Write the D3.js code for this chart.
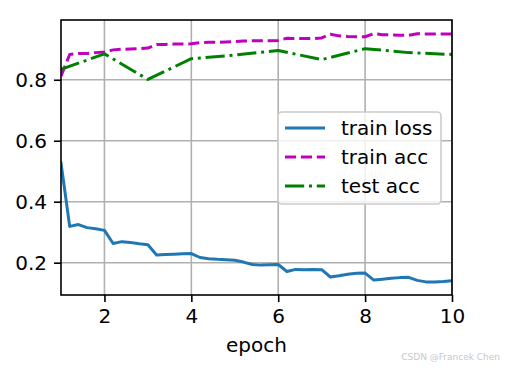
<!DOCTYPE html>
<html>
<head>
<meta charset="utf-8">
<script src="https://cdn.jsdelivr.net/npm/d3@7"></script>
<style>
  html, body { margin: 0; padding: 0; background: #fff; }
  svg { display: block; }
  text { font-family: "DejaVu Sans", sans-serif; }
</style>
</head>
<body>
<svg id="chart" width="505" height="370"></svg>
<script>
// ---- data ----
const fineEpochs = [1.0,1.2,1.4,1.6,1.8,2.0,2.2,2.4,2.6,2.8,3.0,3.2,3.4,3.6,3.8,4.0,4.2,4.4,4.6,4.8,5.0,5.2,5.4,5.6,5.8,6.0,6.2,6.4,6.6,6.8,7.0,7.2,7.4,7.6,7.8,8.0,8.2,8.4,8.6,8.8,9.0,9.2,9.4,9.6,9.8,10.0];
const trainLoss = [0.527,0.319,0.325,0.315,0.311,0.306,0.263,0.269,0.266,0.262,0.259,0.225,0.227,0.228,0.229,0.230,0.217,0.213,0.211,0.210,0.208,0.202,0.194,0.192,0.193,0.194,0.171,0.178,0.177,0.178,0.177,0.153,0.157,0.162,0.165,0.166,0.143,0.146,0.149,0.151,0.152,0.142,0.137,0.137,0.138,0.141];
const trainAcc = [0.812,0.883,0.886,0.886,0.889,0.891,0.898,0.900,0.901,0.902,0.904,0.916,0.916,0.917,0.917,0.918,0.922,0.923,0.923,0.924,0.925,0.927,0.928,0.928,0.928,0.929,0.936,0.935,0.935,0.935,0.937,0.949,0.944,0.942,0.941,0.941,0.951,0.948,0.947,0.946,0.946,0.951,0.950,0.950,0.950,0.950];
const testEpochs = [1,2,3,4,5,6,7,8,9,10];
const testAcc = [0.834,0.885,0.801,0.869,0.881,0.896,0.866,0.902,0.889,0.883];
const xTicks = [2,4,6,8,10];
const yTicks = [0.2,0.4,0.6,0.8];
const seriesNames = ["train loss","train acc","test acc"];

// ---- layout ----
const L = 61, R = 452, T = 20, B = 295;
const svg = d3.select("#chart");
const x = d3.scaleLinear().domain([1,10]).range([L,R]);
const y = d3.scaleLinear().domain([0.094,0.996]).range([B,T]);

svg.append("defs").append("clipPath").attr("id","clip")
  .append("rect").attr("x",L).attr("y",T).attr("width",R-L).attr("height",B-T);

// grid
const grid = svg.append("g");
xTicks.forEach(t => grid.append("line").attr("x1",x(t)).attr("x2",x(t)).attr("y1",T).attr("y2",B)
  .attr("stroke","#b0b0b0").attr("stroke-width",1.6));
yTicks.forEach(t => grid.append("line").attr("x1",L).attr("x2",R).attr("y1",y(t)).attr("y2",y(t))
  .attr("stroke","#b0b0b0").attr("stroke-width",1.6));

// lines
const lineG = svg.append("g").attr("clip-path","url(#clip)");
const mk = d3.line().x(d=>x(d[0])).y(d=>y(d[1]));
lineG.append("path").datum(fineEpochs.map((e,i)=>[e,trainLoss[i]])).attr("d",mk)
  .attr("fill","none").attr("stroke","#1f77b4").attr("stroke-width",3).attr("stroke-linejoin","round").attr("stroke-linecap","square");
lineG.append("path").datum(fineEpochs.map((e,i)=>[e,trainAcc[i]])).attr("d",mk)
  .attr("fill","none").attr("stroke","#bf00bf").attr("stroke-width",3).attr("stroke-dasharray","11.1,4.8").attr("stroke-linejoin","round");
lineG.append("path").datum(testEpochs.map((e,i)=>[e,testAcc[i]])).attr("d",mk)
  .attr("fill","none").attr("stroke","#008000").attr("stroke-width",3).attr("stroke-dasharray","19.2,4.8,3,4.8").attr("stroke-linejoin","round");

// axes
const xAxis = d3.axisBottom(x).tickValues(xTicks).tickFormat(d3.format("d")).tickSize(7).tickPadding(7);
const yAxis = d3.axisLeft(y).tickValues(yTicks).tickFormat(d3.format(".1f")).tickSize(7).tickPadding(7);
const gx = svg.append("g").attr("transform",`translate(0,${B})`).call(xAxis);
const gy = svg.append("g").attr("transform",`translate(${L},0)`).call(yAxis);
[gx,gy].forEach(g => {
  g.select(".domain").remove();
  g.selectAll(".tick line").attr("stroke","#000").attr("stroke-width",1.6);
  g.selectAll(".tick text").attr("fill","#000").style("font-size","20px").style("font-family","DejaVu Sans");
});

// frame
svg.append("rect").attr("x",L).attr("y",T).attr("width",R-L).attr("height",B-T)
  .attr("fill","none").attr("stroke","#000").attr("stroke-width",1.6);

// x label
svg.append("text").attr("x",(L+R)/2).attr("y",352).attr("text-anchor","middle")
  .style("font-size","20px").attr("fill","#000").text("epoch");

// legend
const lg = svg.append("g");
lg.append("rect").attr("x",278).attr("y",112).attr("width",163).attr("height",92).attr("rx",4)
  .attr("fill","#fff").attr("fill-opacity",0.8).attr("stroke","#cccccc").attr("stroke-width",1.6);
const styles = [
  {c:"#1f77b4", d:null},
  {c:"#bf00bf", d:"11.1,4.8"},
  {c:"#008000", d:"19.2,4.8,3,4.8"}
];
seriesNames.forEach((n,i)=>{
  const cy = 128 + i*29;
  const ln = lg.append("line").attr("x1",285).attr("x2",325).attr("y1",cy).attr("y2",cy)
    .attr("stroke",styles[i].c).attr("stroke-width",3);
  if (styles[i].d) ln.attr("stroke-dasharray",styles[i].d);
  lg.append("text").attr("x",341).attr("y",cy).attr("dy","0.35em").style("font-size","20px").attr("fill","#000").text(n);
});

// watermark
svg.append("text").attr("x",500).attr("y",360).attr("text-anchor","end")
  .style("font-size","9px").attr("fill","#c8c8c8").text("CSDN @Francek Chen");
</script>
</body>
</html>
